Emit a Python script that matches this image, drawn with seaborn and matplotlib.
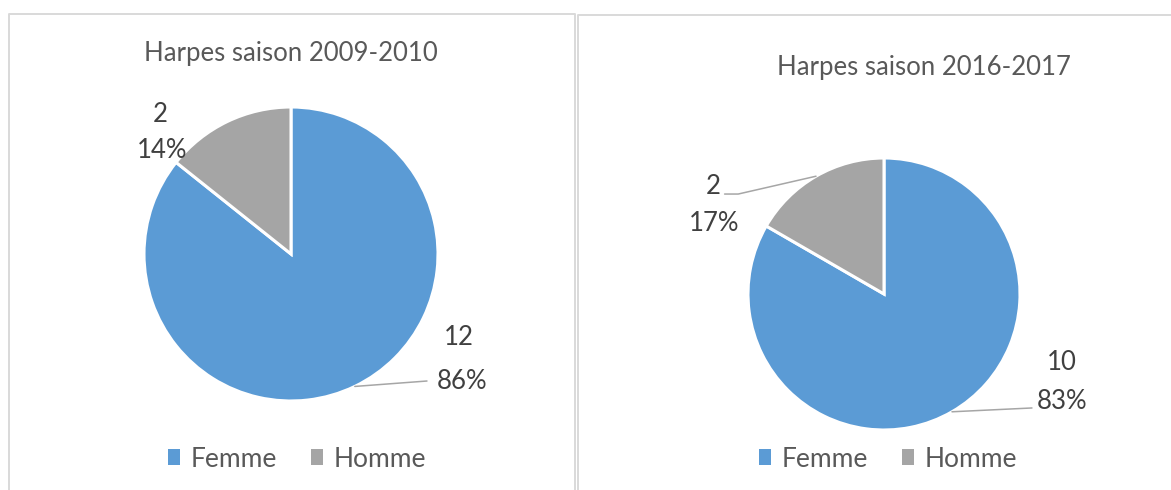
import numpy as np
import matplotlib.pyplot as plt
import seaborn as sns
from matplotlib.patches import Patch
from matplotlib.lines import Line2D

# --- data ---
CATEGORIES = ['Femme', 'Homme']
TITLES = ['Harpes saison 2009-2010', 'Harpes saison 2016-2017']
COUNTS_2009 = [12, 2]
COUNTS_2016 = [10, 2]
COLORS = ['#5B9BD5', '#A5A5A5']

sns.set_theme(style="white")
plt.rcParams['font.family'] = ['Lato', 'DejaVu Sans']

W, H = 1171, 490
fig = plt.figure(figsize=(W / 100, H / 100), dpi=100)
fig.patch.set_facecolor('white')


def px_axes(cx, cy, r):
    # axes box holding a pie of radius r (pixels) centred at (cx, cy), y from top
    return fig.add_axes([(cx - r) / W, (H - cy - r) / H, 2 * r / W, 2 * r / H])


def frame_line(xs, ys):
    fig.add_artist(Line2D([x / W for x in xs], [1 - y / H for y in ys],
                          transform=fig.transFigure, color='#D9D9D9', lw=1.4))


# panel borders (the two chart boxes)
frame_line([9, 9, 575, 575], [500, 14, 14, 500])
frame_line([578, 578, 1180], [500, 15, 15])

panels = [
    # counts, title, pie centre/radius, title pos, label spots (in pie radii)
    dict(counts=COUNTS_2009, title=TITLES[0], cx=291, cy=254, r=147, ty=53, tx=291,
         femme_val=(1.143, -0.565), femme_pct=(1.163, -0.864), femme_lead=(0.925, -0.864),
         homme_val=(-0.891, 0.946), homme_pct=(-0.878, 0.707), homme_lead=None,
         leg_x=297),
    dict(counts=COUNTS_2016, title=TITLES[1], cx=884, cy=294, r=136, ty=68, tx=924,
         femme_val=(1.309, -0.507), femme_pct=(1.309, -0.787), femme_lead=(1.088, -0.838),
         homme_val=(-1.257, 0.787), homme_pct=(-1.246, 0.515), homme_lead=(-1.072, 0.735),
         leg_x=888),
]

txt_col = '#404040'
for p in panels:
    ax = px_axes(p['cx'], p['cy'], p['r'])
    wedges, _ = ax.pie(p['counts'], colors=COLORS, startangle=90, counterclock=False,
                       radius=1, wedgeprops=dict(edgecolor='white', linewidth=2.2))
    ax.set_xlim(-1, 1)
    ax.set_ylim(-1, 1)
    ax.axis('off')

    total = sum(p['counts'])
    for w, v, key in zip(wedges, p['counts'], ['femme', 'homme']):
        pct = 100 * v / total
        vx, vy = p[key + '_val']
        qx, qy = p[key + '_pct']
        ax.text(vx, vy, f"{v}", ha='center', va='center', fontsize=18.5,
                color=txt_col, clip_on=False)
        ax.text(qx, qy, f"{pct:.0f}%", ha='center', va='center', fontsize=18.5,
                color=txt_col, clip_on=False)
        lead = p[key + '_lead']
        if lead is not None:
            # leader line starts on the wedge rim at its middle angle
            mid = np.deg2rad((w.theta1 + w.theta2) / 2)
            sx, sy = np.cos(mid), np.sin(mid)
            if key == 'homme':
                xs = [sx, lead[0], lead[0] - 0.1]
                ys = [sy, lead[1], lead[1]]
            else:
                xs = [sx, lead[0]]
                ys = [sy, lead[1]]
            ax.plot(xs, ys, color='#A6A6A6', lw=1.1, clip_on=False)

    fig.text(p['tx'] / W, 1 - p['ty'] / H, p['title'], ha='center', va='center',
             fontsize=18.5, color='#595959')

    handles = [Patch(facecolor=c, edgecolor='none', label=l) for c, l in zip(COLORS, CATEGORIES)]
    fig.legend(handles=handles, loc='center', bbox_to_anchor=(p['leg_x'] / W, 1 - 459 / H),
               ncol=2, frameon=False, fontsize=19, handlelength=0.45, handleheight=0.55,
               handletextpad=0.4, columnspacing=1.3, labelcolor='#595959')

fig.savefig('out.png', dpi=100, facecolor='white')
